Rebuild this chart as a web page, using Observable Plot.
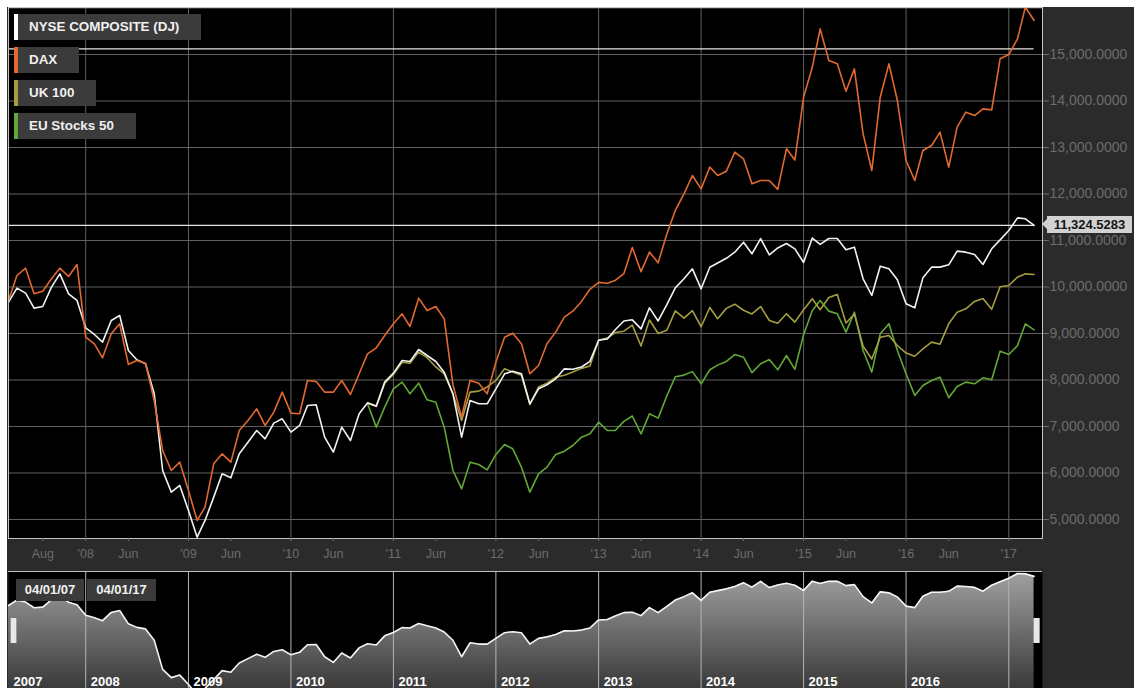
<!DOCTYPE html>
<html><head><meta charset="utf-8">
<script src="https://cdn.jsdelivr.net/npm/d3@7"></script>
<script src="https://cdn.jsdelivr.net/npm/@observablehq/plot@0.6"></script>
<style>
html,body{margin:0;padding:0;background:#fff;}
body{width:1134px;height:688px;overflow:hidden;position:relative;font-family:"Liberation Sans",Arial,sans-serif;}
#wrap{position:absolute;left:7px;top:7px;width:1127px;height:681px;background:#2b2b2b;overflow:hidden;}
#main{position:absolute;left:0;top:0;}
#nav{position:absolute;left:0;top:564px;}
.leg{position:absolute;left:11px;height:26px;background:#3b3b3b;color:#f0f0f0;font:bold 13.4px "Liberation Sans",Arial,sans-serif;line-height:26px;padding:0 22px 0 11px;white-space:nowrap;}
.leg .bar{position:absolute;left:-4px;top:0;width:4px;height:26px;}
.dbox{position:absolute;top:572px;height:22px;background:#3b3b3b;color:#f2f2f2;font:bold 13px "Liberation Sans",Arial,sans-serif;line-height:22px;text-align:center;}
#navTop{position:absolute;left:1px;top:564px;width:1034px;height:1px;background:#bdbdbd;}
.handle{position:absolute;top:611px;width:5px;height:25px;background:#e8e8e8;border-left:1px solid #999;border-right:1px solid #999;}
#vlab{position:absolute;left:1040px;width:85px;height:17px;background:#d2d2d2;color:#141414;font:bold 13px "Liberation Sans",Arial,sans-serif;line-height:17px;text-align:center;}
#vlab:before{content:"";position:absolute;left:-5px;top:3px;border-top:5px solid transparent;border-bottom:5px solid transparent;border-right:5px solid #d2d2d2;}
</style>
</head>
<body>
<div id="wrap">
  <div id="main"></div>
  <div id="nav"></div>
  <div id="navTop"></div>
</div>
<script>
// ---- data (monthly, Apr 2007 .. Apr 2017) ----
const seriesNames = ["NYSE COMPOSITE (DJ)", "DAX", "UK 100", "EU Stocks 50"];
const seriesColors = ["#f2f2f2", "#e2692f", "#a59d42", "#62a834"];
const startMonth = "2007-04-01";
const endDomain = "2017-05-01";
const lateStartIndex = 42; // UK 100 and EU Stocks 50 begin Oct 2010

const nyse = [9674,9975,9867,9545,9581,9996,10283,9853,9710,9122,
  8979,8814,9280,9387,8635,8434,8348,7703,6054,5588,
  5731,5194,4620,4979,5481,5982,5896,6412,6663,6914,
  6735,7072,7165,6878,7022,7452,7466,6771,6448,6986,
  6699,7273,7509,7438,7954,8147,8420,8398,8656,8527,
  8398,8168,7703,6771,7559,7488,7488,7810,8133,8190,
  8133,7488,7810,7896,8025,8240,8230,8280,8400,8855,
  8880,9080,9270,9294,9100,9552,9270,9620,9982,10176,
  10391,9961,10426,10515,10617,10749,10964,10713,11040,10690,
  10840,10936,10821,10527,11053,10918,11043,11043,10799,10857,
  10176,9817,10448,10391,10154,9638,9552,10197,10427,10427,
  10477,10771,10749,10699,10484,10821,11014,11215,11487,11466,
  11324.5283];

const dax = [9710,10247,10405,9853,9910,10176,10405,10226,10484,8921,
  8778,8477,8993,9208,8333,8420,8362,7559,6484,6054,
  6233,5624,4979,5266,6197,6412,6233,6914,7129,7380,
  7022,7308,7739,7287,7273,7989,7968,7739,7739,7989,
  7688,8133,8563,8692,8957,9208,9423,9151,9760,9495,
  9581,9315,7900,7201,7989,7932,7703,8383,8921,9007,
  8778,8133,8312,8778,9029,9350,9480,9690,9950,10100,
  10080,10140,10290,10850,10330,10750,10520,11140,11646,12004,
  12398,12111,12577,12398,12491,12900,12757,12219,12291,12291,
  12100,12972,12730,14082,14725,15552,14871,14799,14211,14691,
  13294,12505,14082,14799,14011,12720,12290,12935,13043,13330,
  12577,13437,13760,13688,13831,13810,14907,15000,15337,16018,
  15731];

const uk100 = [7500,7430,7930,8120,8380,8360,8600,8480,8280,8130,
  7700,7130,7740,7760,7850,7990,8240,8170,8100,7470,
  7850,7930,8060,8100,8170,8250,8300,8860,8900,9020,
  9050,9180,8730,9290,9000,9070,9485,9330,9490,9145,
  9560,9318,9540,9630,9500,9420,9580,9280,9222,9423,
  9244,9510,9746,9510,9775,9839,9226,9420,8725,8450,
  8921,8957,8742,8580,8510,8670,8814,8770,9208,9459,
  9531,9690,9753,9520,10004,10032,10212,10283,10269];

const eu50 = [7488,6986,7416,7810,7954,7703,7932,7573,7523,6986,
  6054,5660,6233,6183,6068,6398,6613,6520,6126,5588,
  5982,6126,6398,6470,6591,6771,6842,7093,6914,6914,
  7110,7225,6842,7272,7180,7660,8068,8105,8180,7918,
  8220,8320,8400,8548,8491,8158,8348,8440,8219,8527,
  8230,8975,9495,9710,9481,9423,9029,9459,8635,8169,
  8993,9208,8635,8133,7667,7882,7990,8061,7617,7861,
  7954,7918,8047,8004,8620,8549,8742,9208,9079];

const currentValue = 11324.5283;
const crossValue = 15120;
const yTicks = [5000,6000,7000,8000,9000,10000,11000,12000,13000,14000,15000];
const yGridVals = [5000,6000,7000,8000,9000,10000,11000,12000,13000,14000,15000,16000];
const xTickDates = ["2007-08-01","2008-01-01","2008-06-01","2009-01-01","2009-06-01","2010-01-01","2010-06-01",
  "2011-01-01","2011-06-01","2012-01-01","2012-06-01","2013-01-01","2013-06-01","2014-01-01","2014-06-01",
  "2015-01-01","2015-06-01","2016-01-01","2016-06-01","2017-01-01"];
const yearStarts = ["2008-01-01","2009-01-01","2010-01-01","2011-01-01","2012-01-01","2013-01-01","2014-01-01","2015-01-01","2016-01-01","2017-01-01"];
const yearLabels = ["2007","2008","2009","2010","2011","2012","2013","2014","2015","2016"];
const rangeLabels = ["04/01/07", "04/01/17"];

// ---- build tables ----
const parse = d3.utcParse("%Y-%m-%d");
const t0 = parse(startMonth), t1 = parse(endDomain);
const months = d3.utcMonth.range(t0, t1);
const rows = (vals, off) => vals.map((v, i) => ({date: months[i + off], v}));
const sNyse = rows(nyse, 0), sDax = rows(dax, 0), sUk = rows(uk100, lateStartIndex), sEu = rows(eu50, lateStartIndex);
const lastDate = months[months.length - 1];
const monthName = d3.utcFormat("%b");
const fmtX = d => d.getUTCMonth() === 0 ? "'" + d3.utcFormat("%y")(d) : monthName(d);
const font = "'Liberation Sans', Arial, sans-serif";
const axisColor = "#6c6c6c";

const main = Plot.plot({
  width: 1127, height: 564,
  marginLeft: 1, marginRight: 92, marginTop: 0, marginBottom: 33,
  style: {background: "transparent", fontFamily: font},
  x: {type: "utc", domain: [t0, t1]},
  y: {domain: [4591, 16011]},
  marks: [
    Plot.frame({fill: "#000", stroke: null}),
    Plot.gridY(yGridVals, {stroke: "#626262", strokeOpacity: 1, strokeWidth: 1}),
    Plot.gridX(yearStarts.map(parse), {stroke: "#626262", strokeOpacity: 1, strokeWidth: 1}),
    Plot.ruleY([{y: crossValue, x1: t0, x2: lastDate}], {y: "y", x1: "x1", x2: "x2", stroke: "#e6e6e6", strokeWidth: 1.2}),
    Plot.ruleY([{y: currentValue, x1: t0, x2: lastDate}], {y: "y", x1: "x1", x2: "x2", stroke: "#e6e6e6", strokeWidth: 1.2}),
    Plot.lineY(sEu, {x: "date", y: "v", stroke: seriesColors[3], strokeWidth: 1.6, clip: true}),
    Plot.lineY(sUk, {x: "date", y: "v", stroke: seriesColors[2], strokeWidth: 1.6, clip: true}),
    Plot.lineY(sNyse, {x: "date", y: "v", stroke: seriesColors[0], strokeWidth: 1.6, clip: true}),
    Plot.lineY(sDax, {x: "date", y: "v", stroke: seriesColors[1], strokeWidth: 1.6, clip: true}),
    Plot.frame({stroke: "#c4c4c4", strokeWidth: 1}),
    Plot.axisY(yTicks, {anchor: "right", tickFormat: d3.format(",.4f"), tickSize: 6, tickPadding: 1,
      fontSize: 14, color: axisColor, stroke: axisColor, fill: axisColor, label: null}),
    Plot.axisX(xTickDates.map(parse), {anchor: "bottom", tickFormat: fmtX, tickSize: 3, tickPadding: 8,
      fontSize: 12.5, color: axisColor, stroke: axisColor, fill: axisColor, label: null})
  ]
});
document.getElementById("main").appendChild(main);

const nav = Plot.plot({
  width: 1127, height: 117,
  marginLeft: 1, marginRight: 92, marginTop: 0, marginBottom: 0,
  style: {background: "transparent", fontFamily: font},
  x: {type: "utc", domain: [t0, t1], axis: null},
  y: {domain: [4971, 11600], axis: null},
  marks: [
    Plot.frame({fill: "#000", stroke: null}),
    Plot.areaY(sNyse, {x: "date", y1: 4971, y2: "v", fill: "url(#navgrad)", clip: true}),
    Plot.ruleX(yearStarts.map(parse), {stroke: "#b4b4b4", strokeWidth: 1}),
    Plot.lineY(sNyse, {x: "date", y: "v", stroke: "#f4f4f4", strokeWidth: 1.6, clip: true}),
    Plot.text(yearLabels, {x: d => d3.max([parse(d + "-01-01"), t0]), text: d => d, frameAnchor: "bottom", dy: -3,
      textAnchor: "start", dx: 5, fill: "#fff", fontWeight: "bold", fontSize: 13, lineAnchor: "bottom"})
  ]
});
const defs = d3.select(nav).insert("defs", ":first-child");
const g = defs.append("linearGradient").attr("id", "navgrad").attr("x1", 0).attr("y1", 0).attr("x2", 0)
  .attr("gradientUnits", "userSpaceOnUse").attr("y2", 117);
g.append("stop").attr("offset", "0").attr("stop-color", "#a2a2a2");
g.append("stop").attr("offset", "1").attr("stop-color", "#3a3a3a");
document.getElementById("nav").appendChild(nav);

// ---- legend ----
const wrap = document.getElementById("wrap");
const legTops = [7, 40, 73, 106];
seriesNames.forEach((name, i) => {
  const d = document.createElement("div");
  d.className = "leg";
  d.style.top = legTops[i] + "px";
  d.textContent = name;
  const b = document.createElement("div");
  b.className = "bar";
  b.style.background = seriesColors[i] === "#f2f2f2" ? "#ffffff" : seriesColors[i];
  d.appendChild(b);
  wrap.appendChild(d);
});

// ---- current value label ----
const vy = main.scale("y").apply(currentValue);
const vl = document.createElement("div");
vl.id = "vlab";
vl.style.top = (vy - 8.5) + "px";
vl.textContent = d3.format(",.4f")(currentValue);
wrap.appendChild(vl);

// ---- navigator range boxes & handles ----
[[9, 68], [80, 69]].forEach(([l, w], i) => {
  const d = document.createElement("div");
  d.className = "dbox";
  d.style.left = l + "px"; d.style.width = w + "px";
  d.textContent = rangeLabels[i];
  wrap.appendChild(d);
});
const xs = main.scale("x");
[xs.apply(t0) + 2, xs.apply(lastDate) - 1].forEach(x => {
  const h = document.createElement("div");
  h.className = "handle";
  h.style.left = x + "px";
  wrap.appendChild(h);
});
</script>
</body></html>
